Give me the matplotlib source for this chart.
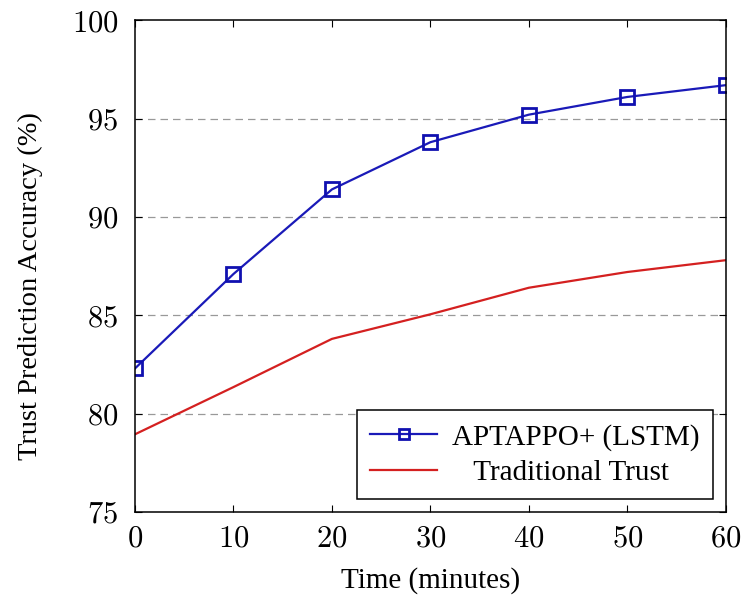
import numpy as np
import matplotlib
matplotlib.use('Agg')
import matplotlib.pyplot as plt
from matplotlib.ticker import FuncFormatter

plt.rcParams['font.family'] = 'Liberation Serif'
plt.rcParams['mathtext.fontset'] = 'cm'

time_min = [0, 10, 20, 30, 40, 50, 60]
aptappo = [82.3, 87.1, 91.4, 93.8, 95.2, 96.1, 96.7]
traditional = [78.95, 81.35, 83.8, 85.05, 86.4, 87.2, 87.8]

fig = plt.figure(figsize=(7.42, 5.96), dpi=100)
ax = fig.add_axes([0.182, 0.141, 0.796, 0.825])

ax.plot(time_min, aptappo, color='#1a1ab8', lw=1.6, marker='s', ms=10,
        mfc='none', mec='#1010b0', mew=2, label='APTAPPO+ (LSTM)')
ax.plot(time_min, traditional, color='#d42020', lw=1.6,
        label='   Traditional Trust')

ax.set_xlim(0, 60)
ax.set_ylim(75, 100)
ax.set_xticks(range(0, 61, 10))
ax.set_yticks(range(75, 101, 5))
fmt = FuncFormatter(lambda v, p: r'$%d$' % v)
ax.xaxis.set_major_formatter(fmt)
ax.yaxis.set_major_formatter(fmt)
ax.tick_params(direction='in', top=True, right=True, labelsize=22, length=5)
ax.tick_params(axis='x', pad=9)
ax.tick_params(axis='y', pad=12)

for y in [80, 85, 90, 95]:
    ax.axhline(y, color='#999999', lw=0.9, ls=(0, (6, 4)), zorder=0)

ax.set_xlabel('Time (minutes)', fontsize=21, labelpad=10)
ax.set_ylabel('Trust Prediction Accuracy (%)', fontsize=20.5)
ax.yaxis.set_label_coords(-0.155, 0.46)

for s in ax.spines.values():
    s.set_linewidth(1.1)

leg = ax.legend(loc='lower right', fontsize=21, frameon=True, fancybox=False,
                edgecolor='black', framealpha=1, handlelength=2.3,
                handletextpad=0.5, markerscale=0.7,
                borderaxespad=0.45, labelspacing=0.3, borderpad=0.45)
leg.get_frame().set_linewidth(1.1)

fig.savefig('out.png', dpi=100)
